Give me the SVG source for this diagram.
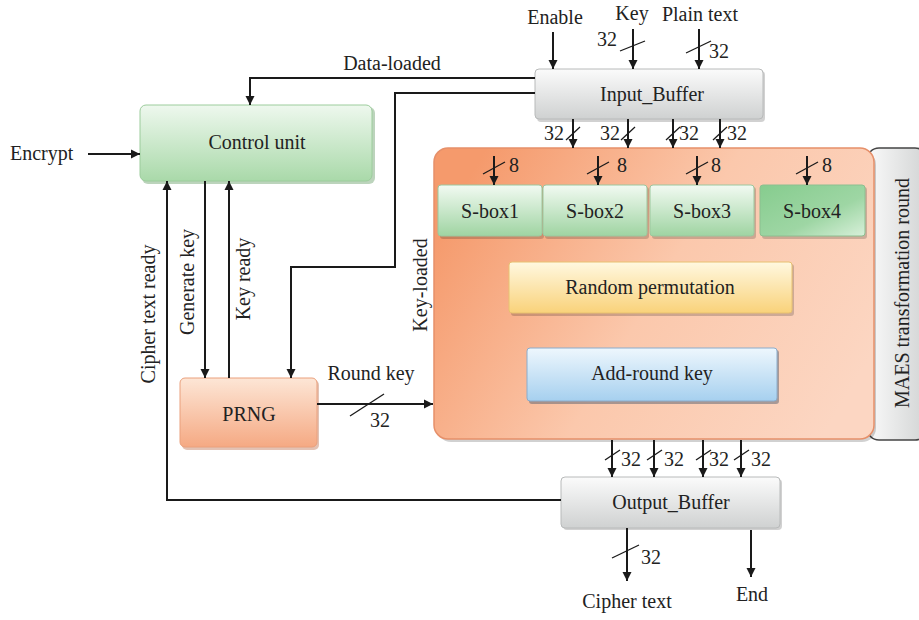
<svg xmlns="http://www.w3.org/2000/svg" width="919" height="620" viewBox="0 0 919 620">
<defs>
<linearGradient id="gGreen" x1="0" y1="0" x2="0" y2="1"><stop offset="0" stop-color="#eef8ee"/><stop offset="1" stop-color="#a9d9a9"/></linearGradient>
<linearGradient id="gSbox" x1="0" y1="0" x2="0" y2="1"><stop offset="0" stop-color="#f2faf2"/><stop offset="1" stop-color="#9fd4a2"/></linearGradient>
<linearGradient id="gSbox4" x1="0" y1="0" x2="1" y2="1"><stop offset="0" stop-color="#86cc8e"/><stop offset="0.6" stop-color="#9ed6a4"/><stop offset="1" stop-color="#d8f0da"/></linearGradient>
<linearGradient id="gOrange" x1="0" y1="0" x2="0" y2="1"><stop offset="0" stop-color="#fde6d6"/><stop offset="1" stop-color="#f5a983"/></linearGradient>
<linearGradient id="gBig" x1="0" y1="0.3" x2="1" y2="0.7"><stop offset="0" stop-color="#f59a6c"/><stop offset="0.5" stop-color="#fbc8ac"/><stop offset="1" stop-color="#fcd6c2"/></linearGradient>
<linearGradient id="gYellow" x1="0" y1="0" x2="0" y2="1"><stop offset="0" stop-color="#fff8e0"/><stop offset="1" stop-color="#f9d27a"/></linearGradient>
<linearGradient id="gBlue" x1="0" y1="0" x2="0" y2="1"><stop offset="0" stop-color="#eef7fd"/><stop offset="1" stop-color="#a6d0ef"/></linearGradient>
<linearGradient id="gGray" x1="0" y1="0" x2="0" y2="1"><stop offset="0" stop-color="#fbfbfb"/><stop offset="1" stop-color="#cfd1d1"/></linearGradient>
<linearGradient id="gGrayH" x1="0" y1="0" x2="1" y2="0"><stop offset="0" stop-color="#fafafa"/><stop offset="1" stop-color="#d2d4d4"/></linearGradient>
<marker id="arr" viewBox="0 0 10 10" refX="10" refY="5" markerWidth="9" markerHeight="10" markerUnits="userSpaceOnUse" orient="auto"><path d="M0,0 L10,5 L0,10 z" fill="#1a1a1a"/></marker>
</defs>
<style>
text{font-family:"Times New Roman","Liberation Serif",Tinos,"DejaVu Serif","Noto Serif",serif;font-size:20px;fill:#222;}
.c{text-anchor:middle;}
.a{stroke:#1a1a1a;stroke-width:2;fill:none;marker-end:url(#arr);}
.sl{stroke:#1a1a1a;stroke-width:1.3;}
.sh{fill:#000;opacity:0.18;}
</style>

<g id="maes-round">
<rect x="867" y="148" width="60" height="292" rx="12" fill="url(#gGrayH)" stroke="#444" stroke-width="1.5"/>
<text class="c" transform="translate(909,293) rotate(-90)">MAES transformation round</text>
</g>
<g id="transform-box">
<rect x="437" y="151" width="439" height="291" rx="14" class="sh"/>
<rect x="434" y="148" width="440" height="291" rx="14" fill="url(#gBig)" stroke="#e6906a" stroke-width="1.5"/>
</g>
<g id="sbox1"><rect x="440" y="187" width="104" height="52" rx="3" class="sh"/><rect x="438" y="185" width="104" height="51" rx="3" fill="url(#gSbox)" stroke="#9cc79e"/><text class="c" x="490" y="218">S-box1</text></g>
<g id="sbox2"><rect x="545" y="187" width="104" height="52" rx="3" class="sh"/><rect x="543" y="185" width="104" height="51" rx="3" fill="url(#gSbox)" stroke="#9cc79e"/><text class="c" x="595" y="218">S-box2</text></g>
<g id="sbox3"><rect x="652" y="187" width="104" height="52" rx="3" class="sh"/><rect x="650" y="185" width="104" height="51" rx="3" fill="url(#gSbox)" stroke="#9cc79e"/><text class="c" x="702" y="218">S-box3</text></g>
<g id="sbox4"><rect x="762" y="187" width="105" height="52" rx="3" class="sh"/><rect x="760" y="185" width="105" height="51" rx="3" fill="url(#gSbox4)" stroke="#8cbf90"/><text class="c" x="812" y="218">S-box4</text></g>
<g id="random-permutation"><rect x="511" y="264" width="283" height="52" rx="3" class="sh"/><rect x="509" y="262" width="283" height="51" rx="3" fill="url(#gYellow)" stroke="#e8c070"/><text class="c" x="650" y="294">Random permutation</text></g>
<g id="add-round-key"><rect x="529" y="350" width="250" height="54" rx="3" fill="#556070" opacity="0.5"/><rect x="527" y="348" width="250" height="53" rx="3" fill="url(#gBlue)" stroke="#8aaccc"/><text class="c" x="652" y="380">Add-round key</text></g>

<g id="control-unit"><rect x="142" y="107" width="233" height="77" rx="6" fill="#7aaa7a" opacity="0.5"/><rect x="140" y="105" width="232" height="76" rx="6" fill="url(#gGreen)" stroke="#9ccc9c"/><text class="c" x="257" y="149">Control unit</text></g>
<g id="prng"><rect x="182" y="380" width="137" height="70" rx="5" fill="#c07858" opacity="0.45"/><rect x="180" y="378" width="137" height="69" rx="5" fill="url(#gOrange)" stroke="#eaa07c"/><text class="c" x="249" y="421">PRNG</text></g>
<g id="input-buffer"><rect x="537" y="71" width="228" height="51" rx="4" class="sh"/><rect x="535" y="69" width="228" height="50" rx="4" fill="url(#gGray)" stroke="#b8baba"/><text class="c" x="652" y="101">Input_Buffer</text></g>
<g id="output-buffer"><rect x="563" y="479" width="219" height="51" rx="4" class="sh"/><rect x="561" y="477" width="219" height="51" rx="4" fill="url(#gGray)" stroke="#b8baba"/><text class="c" x="671" y="509">Output_Buffer</text></g>

<g id="connectors">
<text x="10" y="160">Encrypt</text>
<line class="a" x1="88" y1="154" x2="140" y2="154"/>
<text class="c" x="392" y="70">Data-loaded</text>
<polyline class="a" points="535,78 250,78 250,105"/>
<polyline class="a" points="535,93 395,93 395,267 291,267 291,378"/>
<text class="c" transform="translate(427,285) rotate(-90)">Key-loaded</text>
<line class="a" x1="205" y1="181" x2="205" y2="378"/>
<text class="c" transform="translate(194,282) rotate(-90)">Generate key</text>
<line class="a" x1="229" y1="378" x2="229" y2="181"/>
<text class="c" transform="translate(250,279) rotate(-90)">Key ready</text>
<polyline class="a" points="561,500 167,500 167,181"/>
<text class="c" transform="translate(155,314) rotate(-90)">Cipher text ready</text>
<line class="a" x1="317" y1="404" x2="433" y2="404"/>
<line class="sl" x1="350" y1="416" x2="384" y2="394"/>
<text class="c" x="371" y="380">Round key</text>
<text x="370" y="427">32</text>
<text class="c" x="555" y="24">Enable</text>
<line class="a" x1="553" y1="32" x2="553" y2="69"/>
<text class="c" x="632" y="20">Key</text>
<line class="a" x1="633" y1="29" x2="633" y2="69"/>
<line class="sl" x1="620" y1="51" x2="645" y2="41"/>
<text x="597" y="46">32</text>
<text class="c" x="700" y="21">Plain text</text>
<line class="a" x1="699" y1="29" x2="699" y2="69"/>
<line class="sl" x1="686" y1="53" x2="711" y2="41"/>
<text x="709" y="58">32</text>
<line class="a" x1="573" y1="119" x2="573" y2="148"/>
<line class="sl" x1="566" y1="140" x2="580" y2="127"/>
<text x="544" y="140">32</text>
<line class="a" x1="628" y1="119" x2="628" y2="148"/>
<line class="sl" x1="621" y1="140" x2="635" y2="127"/>
<text x="600" y="140">32</text>
<line class="a" x1="673" y1="119" x2="673" y2="148"/>
<line class="sl" x1="666" y1="140" x2="680" y2="127"/>
<text x="679" y="140">32</text>
<line class="a" x1="720" y1="119" x2="720" y2="148"/>
<line class="sl" x1="713" y1="140" x2="727" y2="127"/>
<text x="727" y="140">32</text>
<line class="a" x1="494" y1="156" x2="494" y2="185"/>
<line class="sl" x1="483" y1="174" x2="505" y2="162"/>
<text x="509" y="172">8</text>
<line class="a" x1="598" y1="156" x2="598" y2="185"/>
<line class="sl" x1="587" y1="174" x2="609" y2="162"/>
<text x="617" y="172">8</text>
<line class="a" x1="697" y1="156" x2="697" y2="185"/>
<line class="sl" x1="686" y1="174" x2="708" y2="162"/>
<text x="711" y="172">8</text>
<line class="a" x1="807" y1="156" x2="807" y2="185"/>
<line class="sl" x1="796" y1="174" x2="818" y2="162"/>
<text x="822" y="172">8</text>
<line class="a" x1="612" y1="440" x2="612" y2="477"/>
<line class="sl" x1="605" y1="460" x2="620" y2="450"/>
<text x="621" y="466">32</text>
<line class="a" x1="654" y1="440" x2="654" y2="477"/>
<line class="sl" x1="647" y1="460" x2="662" y2="450"/>
<text x="664" y="466">32</text>
<line class="a" x1="703" y1="440" x2="703" y2="477"/>
<line class="sl" x1="696" y1="460" x2="711" y2="450"/>
<text x="709" y="466">32</text>
<line class="a" x1="741" y1="440" x2="741" y2="477"/>
<line class="sl" x1="734" y1="460" x2="749" y2="450"/>
<text x="751" y="466">32</text>
<line class="a" x1="627" y1="528" x2="627" y2="581"/>
<line class="sl" x1="612" y1="558" x2="639" y2="545"/>
<text x="641" y="564">32</text>
<text class="c" x="627" y="608">Cipher text</text>
<line class="a" x1="751" y1="530" x2="751" y2="577"/>
<text class="c" x="752" y="601">End</text>
</g>
</svg>
